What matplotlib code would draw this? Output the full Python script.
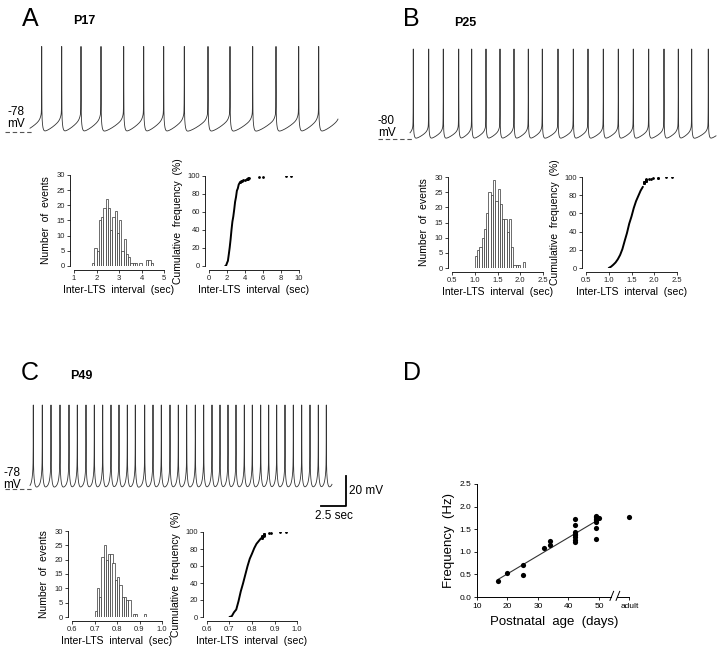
import numpy as np
import matplotlib.pyplot as plt

plt.rcParams['font.family'] = ['Liberation Sans', 'DejaVu Sans']

W, H = 720, 654

# spike times (s)
spikes_a = [1.17, 3.17, 5.10, 7.10, 9.37, 11.37, 13.37, 15.43, 17.80, 20.00,
            22.27, 24.60, 26.87, 28.87]
spikes_b = [0.33, 1.87, 3.33, 4.87, 6.17, 7.60, 9.00, 10.40, 11.83, 13.23,
            14.80, 16.33, 17.80, 19.33, 20.83, 22.33, 23.87, 25.40, 26.83,
            28.17, 29.83]
spikes_c = [0.33, 1.23, 2.10, 3.00, 3.90, 4.73, 5.60, 6.43, 7.27, 8.10, 8.90,
            9.73, 10.53, 11.47, 12.30, 13.13, 14.00, 14.83, 15.67, 16.53,
            17.37, 18.20, 19.00, 19.80, 20.60, 21.43, 22.23, 23.07, 23.87,
            24.67, 25.50, 26.33, 27.17, 28.00, 28.83, 29.63]
rest_a, rest_b, rest_c = -78, -80, -78

# inter-LTS interval histograms: first bin start, bin width, counts
hist_a_start, hist_a_width = 1.8, 0.1
hist_a_counts = [1, 6, 5, 15, 16, 19, 22, 19, 12, 16, 18, 11, 15, 5, 9, 4, 3,
                 1, 1, 1, 0, 1, 0, 0, 2, 2, 1]
extra_a = [5.6, 6.0, 8.5, 9.1]          # intervals beyond the histogram axis

hist_b_start, hist_b_width = 1.0, 0.05
hist_b_counts = [4, 6, 7, 10, 13, 18, 25, 24, 29, 22, 26, 21, 16, 16, 12, 16,
                 7, 1, 1, 1, 0, 2]
extra_b = [2.25, 2.4]

hist_c_start, hist_c_width = 0.70, 0.01
hist_c_counts = [2, 10, 7, 21, 25, 20, 22, 22, 19, 13, 14, 11, 7, 7, 6, 6, 0,
                 1, 1, 0, 0, 0, 1]
extra_c = [0.95]

# panel D
ages = [17, 20, 25, 25, 32, 34, 34, 42, 42, 42, 42, 42, 42, 42, 42,
        49, 49, 49, 49, 49, 49, 49, 50]
freq = [0.36, 0.53, 0.70, 0.49, 1.08, 1.25, 1.14, 1.73, 1.59, 1.43, 1.40,
        1.37, 1.33, 1.27, 1.22, 1.79, 1.76, 1.73, 1.70, 1.53, 1.28, 1.67, 1.75]
adult_freq = 1.78

PX_S, PX_MV = 10.0, 1.5   # pixels per second / per mV on the traces

fig = plt.figure(figsize=(W / 100, H / 100), dpi=100)


def box(l, t, r, b):
    return [l / W, 1 - b / H, (r - l) / W, (b - t) / H]


def ftext(x, y, s, **kw):
    fig.text(x / W, 1 - y / H, s, **kw)


def make_trace(spikes, t_end, height, ramp, lts, tau_lts, tau_d, p=1.6):
    sp = np.asarray(spikes)
    isi = np.diff(sp).mean()
    full = np.concatenate([[sp[0] - isi], sp, [sp[-1] + isi]])
    t = np.union1d(np.arange(0, t_end, 0.002), sp)
    i = np.searchsorted(full, t, side='right') - 1
    tp, tn = full[i], full[i + 1]
    ph = (t - tp) / (tn - tp)
    spike = height - ramp - lts
    v = ramp * ph ** p
    v += lts * np.exp(-(tn - t) / tau_lts) + spike * np.exp(-(tn - t) / 0.01)
    v += spike * np.exp(-(t - tp) / 0.01) + (ramp + lts) * np.exp(-(t - tp) / tau_d)
    return t, v


def trace_axes(l, t, r, b, t0_px, base_px, rest):
    ax = fig.add_axes(box(l, t, r, b))
    ax.set_xlim((l - t0_px) / PX_S, (r - t0_px) / PX_S)
    ax.set_ylim(rest - (b - base_px) / PX_MV, rest + (base_px - t) / PX_MV)
    ax.axis('off')
    return ax


def draw_trace(ax, spikes, t_end, rest, **kw):
    t, v = make_trace(spikes, t_end, **kw)
    ax.plot(t, rest + v, color='#333333', lw=0.6)
    x0 = ax.get_xlim()[0]
    ax.plot([x0, 0.3], [rest, rest], color='#555555', lw=0.8, ls=(0, (4, 2.5)))


def style(ax, fs=5.5):
    for s in ['top', 'right']:
        ax.spines[s].set_visible(False)
    for s in ['left', 'bottom']:
        ax.spines[s].set_position(('outward', 3))
        ax.spines[s].set_linewidth(0.6)
    ax.tick_params(labelsize=fs, length=2, width=0.6, pad=1.5, colors='#222222')


def hist_panel(rect, start, width, counts, xlim, xticks, fmt):
    ax = fig.add_axes(rect)
    edges = start + width * np.arange(len(counts))
    ax.bar(edges, counts, width=width, align='edge', facecolor='white',
           edgecolor='#333333', lw=0.5)
    ax.set_xlim(*xlim)
    ax.set_ylim(0, 30)
    ax.set_xticks(xticks)
    ax.set_xticklabels([fmt.format(x) for x in xticks])
    ax.set_yticks(range(0, 31, 5))
    style(ax)
    ax.set_ylabel('Number  of  events', fontsize=7.5, labelpad=4)
    ax.set_xlabel('Inter-LTS  interval  (sec)', fontsize=7.5, labelpad=2)
    return ax


def cum_panel(rect, start, width, counts, extra, xlim, xticks, fmt):
    ax = fig.add_axes(rect)
    n = sum(counts) + len(extra)
    right = start + width * np.arange(1, len(counts) + 1)
    pct = 100 * np.cumsum(counts) / n
    x_line = np.concatenate([[start], right])
    y_line = np.concatenate([[0], pct])
    dense = y_line <= 93
    ax.plot(x_line[dense], y_line[dense], color='black', lw=1.4,
            solid_capstyle='round')
    # sparse tail drawn as single events
    tail = np.sort(np.concatenate([
        np.repeat(start + width * (np.arange(len(counts)) + 0.5), counts), extra]))
    tail_pct = 100 * np.arange(1, n + 1) / n
    keep = tail_pct > 93
    ax.plot(tail[keep], tail_pct[keep], 'o', color='black', ms=1.0)
    ax.set_xlim(*xlim)
    ax.set_ylim(0, 100)
    ax.set_xticks(xticks)
    ax.set_xticklabels([fmt.format(x) for x in xticks])
    ax.set_yticks(range(0, 101, 20))
    style(ax)
    ax.set_ylabel('Cumulative  frequency  (%)', fontsize=7.5, labelpad=3)
    ax.set_xlabel('Inter-LTS  interval  (sec)', fontsize=7.5, labelpad=2)
    return ax


# ---- panel A
ax = trace_axes(5, 40, 345, 140, 30, 132, rest_a)
draw_trace(ax, spikes_a, 30.8, rest_a, height=57, ramp=9, lts=5, tau_lts=0.12, tau_d=0.08)
hist_panel(box(74, 175, 164, 266), hist_a_start, hist_a_width, hist_a_counts,
           (1, 5), [1, 2, 3, 4, 5], '{:g}')
cum_panel(box(209, 176, 299, 266), hist_a_start, hist_a_width, hist_a_counts,
          extra_a, (0, 10), [0, 2, 4, 6, 8, 10], '{:g}')

# ---- panel B
ax = trace_axes(378, 40, 718, 146, 410, 139, rest_b)
draw_trace(ax, spikes_b, 30.6, rest_b, height=60, ramp=6, lts=4, tau_lts=0.1, tau_d=0.07)
hist_panel(box(452, 177, 543, 268), hist_b_start, hist_b_width, hist_b_counts,
           (0.5, 2.5), [0.5, 1.0, 1.5, 2.0, 2.5], '{:.1f}')
cum_panel(box(586, 177, 677, 268), hist_b_start, hist_b_width, hist_b_counts,
          extra_b, (0.5, 2.5), [0.5, 1.0, 1.5, 2.0, 2.5], '{:.1f}')

# ---- panel C
ax = trace_axes(5, 398, 395, 512, 30, 489, rest_c)
draw_trace(ax, spikes_c, 30.2, rest_c, height=56, ramp=4, lts=14, tau_lts=0.1, tau_d=0.09)
bar_t, bar_v = 31.6, rest_c - 11.3
ax.plot([bar_t - 2.5, bar_t, bar_t], [bar_v, bar_v, bar_v + 20], color='black',
        lw=1.3, clip_on=False)
ax.text(bar_t + 0.3, bar_v + 10, '20 mV', fontsize=8.5, va='center', ha='left')
ax.text(bar_t - 1.25, bar_v - 2.5, '2.5 sec', fontsize=8.5, va='top', ha='center')
hist_panel(box(72, 531, 162, 617), hist_c_start, hist_c_width, hist_c_counts,
           (0.6, 1.0), [0.6, 0.7, 0.8, 0.9, 1.0], '{:.1f}')
cum_panel(box(207, 532, 297, 617), hist_c_start, hist_c_width, hist_c_counts,
          extra_c, (0.6, 1.0), [0.6, 0.7, 0.8, 0.9, 1.0], '{:.1f}')

# ---- panel D
ax = fig.add_axes(box(477, 484, 631, 597))
ax.scatter(ages, freq, s=14, color='black', zorder=3, linewidths=0)
ax.scatter([60], [adult_freq], s=14, color='black', zorder=3, linewidths=0,
           clip_on=False)
k, c0 = np.polyfit(ages, freq, 1)
xs = np.array([min(ages), max(ages) - 1])
ax.plot(xs, k * xs + c0, color='#333333', lw=0.8)
ax.set_xlim(10, 60.5)
ax.set_ylim(0, 2.5)
ax.set_xticks([10, 20, 30, 40, 50, 60])
ax.set_xticklabels(['10', '20', '30', '40', '50', 'adult'])
ax.set_yticks(np.arange(0, 2.51, 0.5))
ax.set_yticklabels(['{:.1f}'.format(v) for v in np.arange(0, 2.51, 0.5)])
for s in ['top', 'right', 'bottom']:
    ax.spines[s].set_visible(False)
ax.spines['left'].set_linewidth(0.7)
ax.tick_params(labelsize=6, length=2, width=0.6, pad=2)
xt = ax.get_xaxis_transform()
ax.plot([10, 54], [0, 0], color='black', lw=0.7, transform=xt, clip_on=False)
ax.plot([56, 60], [0, 0], color='black', lw=0.7, transform=xt, clip_on=False)
for x in (53.6, 55.6):
    ax.plot([x, x + 1.2], [-0.03, 0.05], color='black', lw=0.7, transform=xt,
            clip_on=False)
ax.set_ylabel('Frequency  (Hz)', fontsize=9.5, labelpad=3)
ax.set_xlabel('Postnatal  age  (days)', fontsize=9.5, labelpad=5)

# ---- panel letters and titles
for x, y, s in [(22, 7, 'A'), (403, 7, 'B'), (21, 361, 'C'), (403, 361, 'D')]:
    ftext(x, y, s, fontsize=18, va='top', ha='left')
for x, y, s in [(73, 15, 'P17'), (454, 17, 'P25'), (70, 370, 'P49')]:
    ftext(x, y, s, fontsize=9, va='top', ha='left', fontweight='bold')
for x, y, s in [(7, 106, '-78\nmV'), (378, 115, '-80\nmV'), (3, 467, '-78\nmV')]:
    ftext(x, y, s, fontsize=8.5, va='top', ha='left', linespacing=1.0)

fig.savefig('out.png', dpi=100)
